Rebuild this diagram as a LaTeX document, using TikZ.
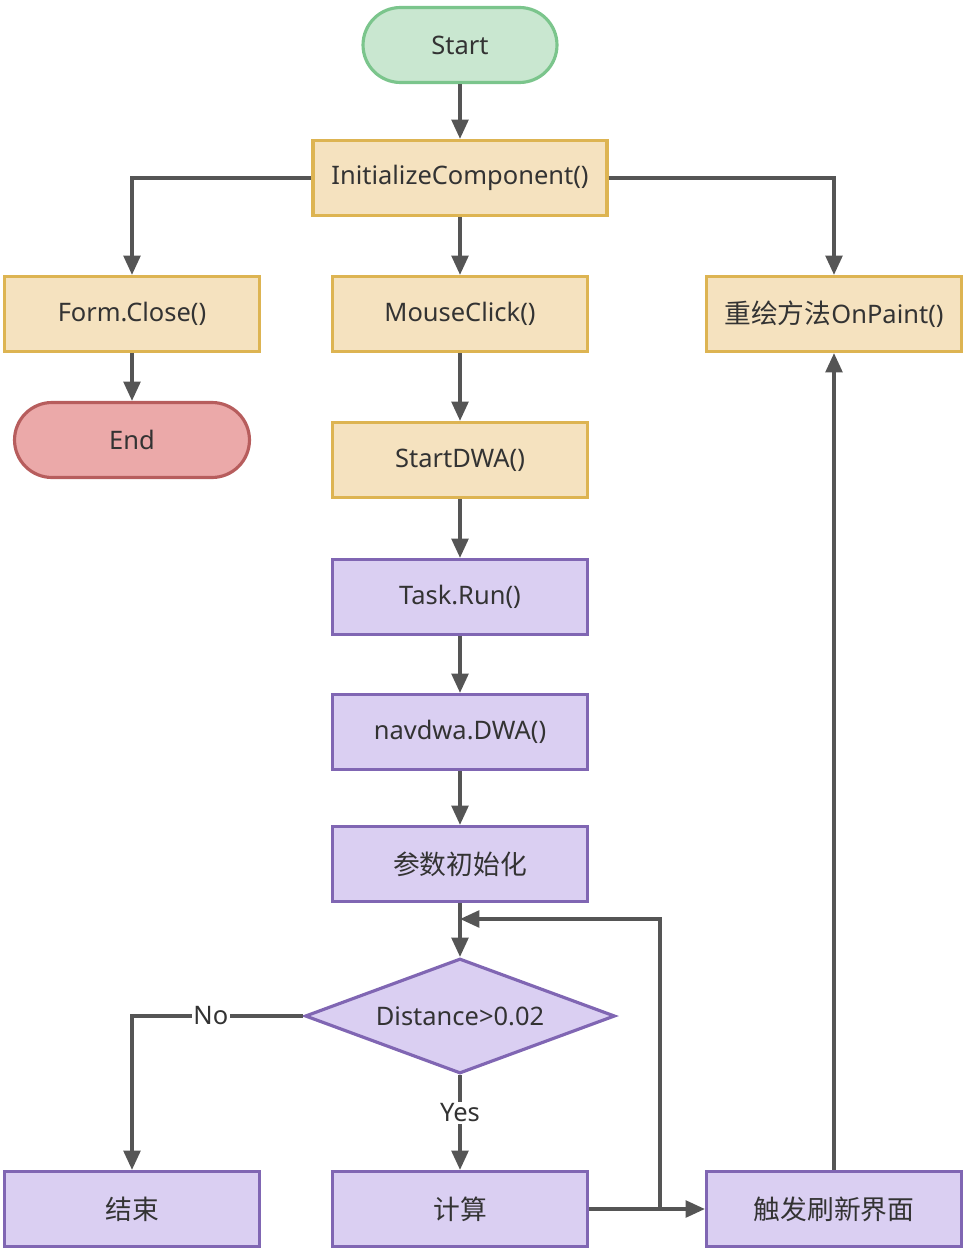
\documentclass[tikz,border=0pt]{standalone}
\usepackage{fontspec}
\setmainfont{Noto Sans}
\newfontfamily\cjk[Scale=1.05]{Noto Sans CJK SC}
\usetikzlibrary{shapes.geometric,arrows.meta}

\definecolor{linegray}{HTML}{555555}
\definecolor{textgray}{HTML}{333333}
\definecolor{startfill}{HTML}{C9E7D0}
\definecolor{startdraw}{HTML}{7BC58C}
\definecolor{endfill}{HTML}{EBA9A9}
\definecolor{enddraw}{HTML}{B75D5D}
\definecolor{initfill}{HTML}{F5E2BF}
\definecolor{initdraw}{HTML}{DDB452}
\definecolor{dwafill}{HTML}{DACFF2}
\definecolor{dwadraw}{HTML}{8066B3}

\begin{document}
\begin{tikzpicture}[x=0.02cm,y=-0.02cm,
  font=\fontsize{14.5}{17}\selectfont, text=textgray,
  box/.style={rectangle, line width=1.8pt, minimum width=5.1cm, minimum height=1.5cm},
  initbox/.style={box, fill=initfill, draw=initdraw},
  dwabox/.style={box, fill=dwafill, draw=dwadraw},
  terminal/.style={rectangle, rounded corners=0.75cm, line width=1.8pt, minimum height=1.5cm},
  decision/.style={diamond, aspect=2.7, fill=dwafill, draw=dwadraw, line width=1.8pt, minimum width=6.2cm, minimum height=2.3cm, inner sep=0pt},
  flow/.style={draw=linegray, line width=2pt, -{Triangle[length=11pt,width=9.5pt]}},
  tag/.style={fill=white, inner sep=1pt}
]
  \useasboundingbox (0,0) rectangle (971,1253);

  % top part
  \node[terminal, fill=startfill, draw=startdraw, minimum width=3.88cm] (start) at (460,45) {Start};
  \node[initbox, minimum width=5.88cm] (init) at (460,178) {InitializeComponent()};
  \node[initbox] (close) at (132,314) {Form.Close()};
  \node[initbox] (click) at (460,314) {MouseClick()};
  \node[initbox] (paint) at (834,314) {{\cjk 重绘方法}OnPaint()};
  \node[terminal, fill=endfill, draw=enddraw, minimum width=4.7cm] (end) at (132,440) {End};
  \node[initbox] (dwa) at (460,460) {StartDWA()};

  % DWA task
  \node[dwabox] (task) at (460,597) {Task.Run()};
  \node[dwabox] (nav) at (460,732) {navdwa.DWA()};
  \node[dwabox] (param) at (460,864) {\cjk 参数初始化};
  \node[decision] (dist) at (460,1016) {Distance>0.02};
  \node[dwabox] (stop) at (132,1209) {\cjk 结束};
  \node[dwabox] (calc) at (460,1209) {\cjk 计算};
  \node[dwabox] (redraw) at (834,1209) {\cjk 触发刷新界面};

  \coordinate (split) at (660,1209);
  \coordinate (back) at (460,919);

  \draw[flow] (start) -- (init);
  \draw[flow] (init.west) -| (close.north);
  \draw[flow] (init) -- (click);
  \draw[flow] (init.east) -| (paint.north);
  \draw[flow] (close) -- (end);
  \draw[flow] (click) -- (dwa);
  \draw[flow] (dwa) -- (task);
  \draw[flow] (task) -- (nav);
  \draw[flow] (nav) -- (param);
  \draw[flow] (param) -- (dist);
  \draw[flow] (dist.west) -| node[tag, pos=0.27] {No} (stop.north);
  \draw[flow] (dist.south) -- node[tag, pos=0.4] {Yes} (calc.north);
  \draw[flow] (calc) -- (redraw);
  \draw[flow] (split) |- (back);
  \draw[flow] (redraw) -- (paint);
\end{tikzpicture}
\end{document}
